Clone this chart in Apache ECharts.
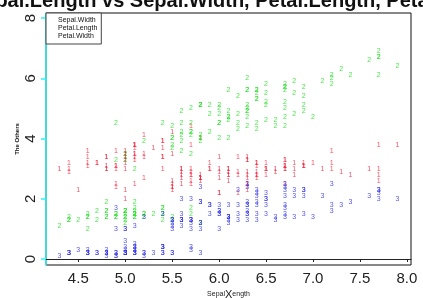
<!DOCTYPE html>
<html>
<head>
<meta charset="utf-8">
<script src="https://cdn.jsdelivr.net/npm/echarts@6/dist/echarts.min.js"></script>
<style>
html, body { margin: 0; padding: 0; background: #fff; }
#main { width: 423px; height: 298px; }
</style>
</head>
<body>
<div id="main"></div>
<script>
var irisChart = echarts.init(document.getElementById("main"));

// iris data (x = Sepal.Length)
var sepalLength = [5.1,4.9,4.7,4.6,5.0,5.4,4.6,5.0,4.4,4.9,5.4,4.8,4.8,4.3,5.8,5.7,5.4,5.1,5.7,5.1,5.4,5.1,4.6,5.1,4.8,5.0,5.0,5.2,5.2,4.7,4.8,5.4,5.2,5.5,4.9,5.0,5.5,4.9,4.4,5.1,5.0,4.5,4.4,5.0,5.1,4.8,5.1,4.6,5.3,5.0,
    7.0,6.4,6.9,5.5,6.5,5.7,6.3,4.9,6.6,5.2,5.0,5.9,6.0,6.1,5.6,6.7,5.6,5.8,6.2,5.6,5.9,6.1,6.3,6.1,6.4,6.6,6.8,6.7,6.0,5.7,5.5,5.5,5.8,6.0,5.4,6.0,6.7,6.3,5.6,5.5,5.5,6.1,5.8,5.0,5.6,5.7,5.7,6.2,5.1,5.7,
    6.3,5.8,7.1,6.3,6.5,7.6,4.9,7.3,6.7,7.2,6.5,6.4,6.8,5.7,5.8,6.4,6.5,7.7,7.7,6.0,6.9,5.6,7.7,6.3,6.7,7.2,6.2,6.1,6.4,7.2,7.4,7.9,6.4,6.3,6.1,7.7,6.3,6.4,6.0,6.9,6.7,6.9,5.8,6.8,6.7,6.7,6.3,6.5,6.2,5.9];
var sepalWidth = [3.5,3.0,3.2,3.1,3.6,3.9,3.4,3.4,2.9,3.1,3.7,3.4,3.0,3.0,4.0,4.4,3.9,3.5,3.8,3.8,3.4,3.7,3.6,3.3,3.4,3.0,3.4,3.5,3.4,3.2,3.1,3.4,4.1,4.2,3.1,3.2,3.5,3.6,3.0,3.4,3.5,2.3,3.2,3.5,3.8,3.0,3.8,3.2,3.7,3.3,
    3.2,3.2,3.1,2.3,2.8,2.8,3.3,2.4,2.9,2.7,2.0,3.0,2.2,2.9,2.9,3.1,3.0,2.7,2.2,2.5,3.2,2.8,2.5,2.8,2.9,3.0,2.8,3.0,2.9,2.6,2.4,2.4,2.7,2.7,3.0,3.4,3.1,2.3,3.0,2.5,2.6,3.0,2.6,2.3,2.7,3.0,2.9,2.9,2.5,2.8,
    3.3,2.7,3.0,2.9,3.0,3.0,2.5,2.9,2.5,3.6,3.2,2.7,3.0,2.5,2.8,3.2,3.0,3.8,2.6,2.2,3.2,2.8,2.8,2.7,3.3,3.2,2.8,3.0,2.8,3.0,2.8,3.8,2.8,2.8,2.6,3.0,3.4,3.1,3.0,3.1,3.1,3.1,2.7,3.2,3.3,3.0,2.5,3.0,3.4,3.0];
var petalLength = [1.4,1.4,1.3,1.5,1.4,1.7,1.4,1.5,1.4,1.5,1.5,1.6,1.4,1.1,1.2,1.5,1.3,1.4,1.7,1.5,1.7,1.5,1.0,1.7,1.9,1.6,1.6,1.5,1.4,1.6,1.6,1.5,1.5,1.4,1.5,1.2,1.3,1.4,1.3,1.5,1.3,1.3,1.3,1.6,1.9,1.4,1.6,1.4,1.5,1.4,
    4.7,4.5,4.9,4.0,4.6,4.5,4.7,3.3,4.6,3.9,3.5,4.2,4.0,4.7,3.6,4.4,4.5,4.1,4.5,3.9,4.8,4.0,4.9,4.7,4.3,4.4,4.8,5.0,4.5,3.5,3.8,3.7,3.9,5.1,4.5,4.5,4.7,4.4,4.1,4.0,4.4,4.6,4.0,3.3,4.2,4.2,4.2,4.3,3.0,4.1,
    6.0,5.1,5.9,5.6,5.8,6.6,4.5,6.3,5.8,6.1,5.1,5.3,5.5,5.0,5.1,5.3,5.5,6.7,6.9,5.0,5.7,4.9,6.7,4.9,5.7,6.0,4.8,4.9,5.6,5.8,6.1,6.4,5.6,5.1,5.6,6.1,5.6,5.5,4.8,5.4,5.6,5.1,5.1,5.9,5.7,5.2,5.0,5.2,5.4,5.1];
var petalWidth = [0.2,0.2,0.2,0.2,0.2,0.4,0.3,0.2,0.2,0.1,0.2,0.2,0.1,0.1,0.2,0.4,0.4,0.3,0.3,0.3,0.2,0.4,0.2,0.5,0.2,0.2,0.4,0.2,0.2,0.2,0.2,0.4,0.1,0.2,0.2,0.2,0.2,0.1,0.2,0.2,0.3,0.3,0.2,0.6,0.4,0.3,0.2,0.2,0.2,0.2,
    1.4,1.5,1.5,1.3,1.5,1.3,1.6,1.0,1.3,1.4,1.0,1.5,1.0,1.4,1.3,1.4,1.5,1.0,1.5,1.1,1.8,1.3,1.5,1.2,1.3,1.4,1.4,1.7,1.5,1.0,1.1,1.0,1.2,1.6,1.5,1.6,1.5,1.3,1.3,1.3,1.2,1.4,1.2,1.0,1.3,1.2,1.3,1.3,1.1,1.3,
    2.5,1.9,2.1,1.8,2.2,2.1,1.7,1.8,1.8,2.5,2.0,1.9,2.1,2.0,2.4,2.3,1.8,2.2,2.3,1.5,2.3,2.0,2.0,1.8,2.1,1.8,1.8,1.8,2.1,1.6,1.9,2.0,2.2,1.5,1.4,2.3,2.4,1.8,1.8,2.1,2.4,2.3,1.9,2.3,2.5,2.3,1.9,2.0,2.3,1.8];

var seriesNames = ['Sepal.Width', 'Petal.Length', 'Petal.Width'];
var seriesValues = [sepalWidth, petalLength, petalWidth];
var seriesDigits = ['1', '2', '3'];
var seriesColors = ['#f2263f', '#22e022', '#2a2ae8'];

var xTicks = [4.5, 5.0, 5.5, 6.0, 6.5, 7.0, 7.5, 8.0];
var yTicks = [0, 2, 4, 6, 8];

var fontName = 'Liberation Sans';

function pairUp(xs, ys) {
    var res = [];
    for (var i = 0; i < xs.length; i++) {
        res.push([xs[i], ys[i]]);
    }
    return res;
}

var series = [];
for (var k = 0; k < seriesNames.length; k++) {
    series.push({
        name: seriesNames[k],
        type: 'scatter',
        symbol: 'circle',
        symbolSize: 2,
        itemStyle: { color: 'transparent' },
        label: {
            show: true,
            position: 'inside',
            formatter: seriesDigits[k],
            color: seriesColors[k],
            fontSize: 7,
            fontFamily: fontName
        },
        emphasis: { disabled: true },
        data: pairUp(sepalLength, seriesValues[k])
    });
}

var irisOption = {
    animation: false,
    graphic: [{
        type: 'text',
        x: 233,
        y: 11,
        style: {
            text: 'Sepal.Length vs Sepal.Width, Petal.Length, Petal.Width',
            fill: '#111',
            font: 'bold 20px "Liberation Sans"',
            textAlign: 'center',
            textVerticalAlign: 'bottom'
        }
    }],
    legend: {
        orient: 'vertical',
        left: 46,
        top: 13,
        padding: [3, 4, 4, 2],
        itemGap: 0,
        itemWidth: 5,
        itemHeight: 8,
        itemStyle: { color: 'transparent' },
        backgroundColor: '#fff',
        borderColor: '#444',
        borderWidth: 1,
        borderRadius: 0,
        textStyle: { color: '#111', fontSize: 7, fontFamily: fontName, lineHeight: 8 },
        data: seriesNames
    },
    grid: {
        left: 46,
        right: 12,
        top: 13,
        bottom: 33,
        containLabel: false,
        outerBoundsMode: 'none',
        show: true,
        borderColor: '#111',
        borderWidth: 1
    },
    xAxis: {
        type: 'value',
        min: 4.156,
        max: 8.044,
        name: '{a|Sepal}{b|X}{a|ength}',
        nameLocation: 'middle',
        nameGap: 24,
        nameMoveOverlap: false,
        nameTextStyle: {
            rich: {
                a: { fontSize: 7, fontFamily: fontName, color: '#222' },
                b: { fontSize: 11, fontFamily: fontName, color: '#222' }
            }
        },
        splitLine: { show: false },
        axisLine: { lineStyle: { color: '#222' } },
        axisTick: { length: 3, customValues: xTicks, lineStyle: { color: '#222' } },
        axisLabel: {
            customValues: xTicks,
            fontSize: 15,
            fontFamily: fontName,
            color: '#222',
            margin: 6,
            formatter: function (v) { return v.toFixed(1); }
        }
    },
    yAxis: {
        type: 'value',
        min: -0.2,
        max: 8.17,
        name: 'The Others',
        nameLocation: 'middle',
        nameRotate: 90,
        nameGap: 26,
        nameMoveOverlap: false,
        nameTextStyle: { fontSize: 6, fontWeight: 'bold', fontFamily: fontName, color: '#111' },
        splitLine: { show: false },
        axisLine: { show: true, lineStyle: { color: '#2ef2f8', width: 1.5 } },
        axisTick: { show: true, length: 5, customValues: yTicks, lineStyle: { color: '#2ef2f8', width: 1.5 } },
        axisLabel: {
            customValues: yTicks,
            rotate: 90,
            fontSize: 15,
            fontFamily: fontName,
            color: '#222',
            margin: 8
        }
    },
    series: series
};

irisChart.setOption(irisOption);

window.onresize = function () {
    irisChart.resize();
};
</script>
</body>
</html>
